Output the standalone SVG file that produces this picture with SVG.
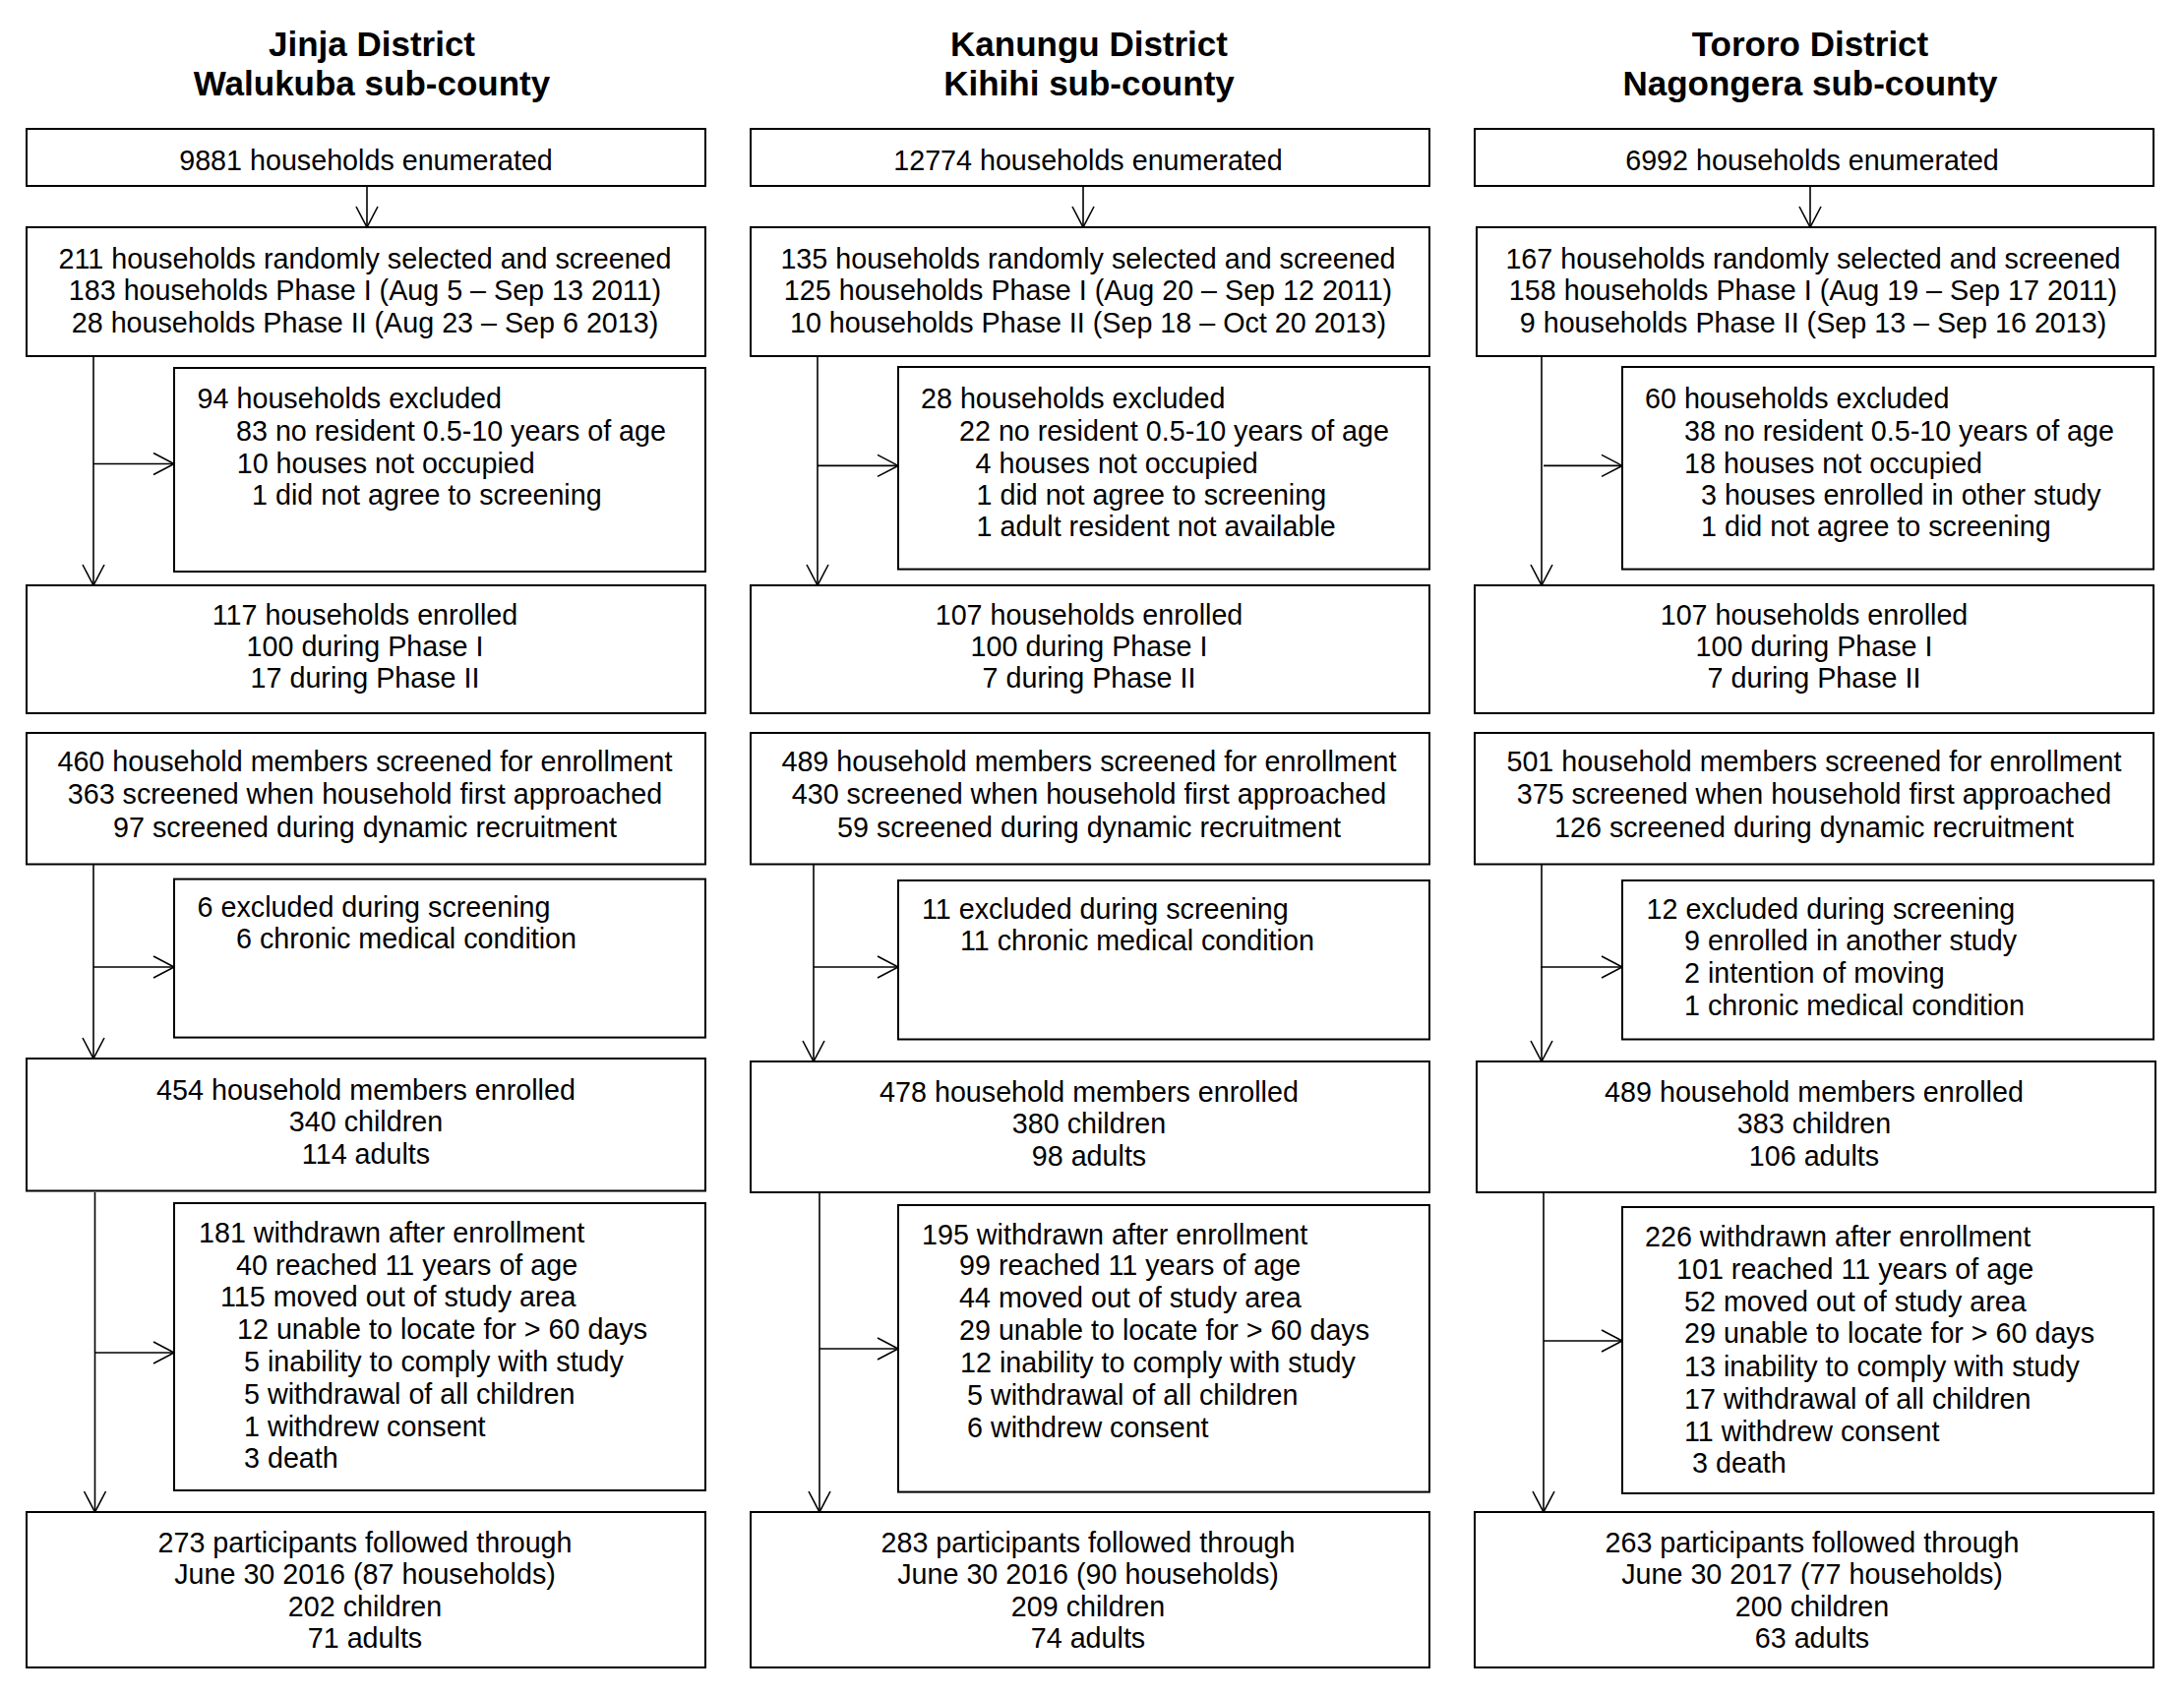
<svg xmlns="http://www.w3.org/2000/svg" width="2220" height="1724" viewBox="0 0 2220 1724">
<defs>
<style>
.box{fill:#fff;stroke:#000;stroke-width:2}
.t{font-family:"Liberation Sans",Arial,sans-serif;font-size:28.7px;fill:#000}
.c{text-anchor:middle}
.h{font-family:"Liberation Sans",Arial,sans-serif;font-size:35px;font-weight:bold;text-anchor:middle;fill:#000}
.ln{stroke:#000;stroke-width:1.6;fill:none}
text{transform:translateY(1.5px)}
</style>
<marker id="arr" markerUnits="userSpaceOnUse" viewBox="0 0 24 26" refX="22" refY="12" markerWidth="24" markerHeight="26" orient="auto">
<path d="M1,1 L22,12 L1,23" fill="none" stroke="#000" stroke-width="1.6"/>
</marker>
</defs>
<rect width="2220" height="1724" fill="#fff"/>

<g id="titles">
<text class="h"><tspan x="378" y="55.5">Jinja District</tspan><tspan x="378" y="95">Walukuba sub-county</tspan></text>
<text class="h"><tspan x="1107" y="55.5">Kanungu District</tspan><tspan x="1107" y="95">Kihihi sub-county</tspan></text>
<text class="h"><tspan x="1840" y="55.5">Tororo District</tspan><tspan x="1840" y="95">Nagongera sub-county</tspan></text>
</g>

<g id="connectors">
<!-- column 1 -->
<line class="ln" x1="373" y1="189" x2="373" y2="231" marker-end="url(#arr)"/>
<line class="ln" x1="95" y1="363" x2="95" y2="595" marker-end="url(#arr)"/>
<line class="ln" x1="95" y1="471.5" x2="177" y2="471.5" marker-end="url(#arr)"/>
<line class="ln" x1="95" y1="879" x2="95" y2="1076" marker-end="url(#arr)"/>
<line class="ln" x1="95" y1="983" x2="177" y2="983" marker-end="url(#arr)"/>
<line class="ln" x1="96.5" y1="1212" x2="96.5" y2="1537" marker-end="url(#arr)"/>
<line class="ln" x1="96.5" y1="1375" x2="177" y2="1375" marker-end="url(#arr)"/>
<!-- column 2 -->
<line class="ln" x1="1101" y1="189" x2="1101" y2="231" marker-end="url(#arr)"/>
<line class="ln" x1="831" y1="363" x2="831" y2="595" marker-end="url(#arr)"/>
<line class="ln" x1="831" y1="473.4" x2="913" y2="473.4" marker-end="url(#arr)"/>
<line class="ln" x1="827" y1="879" x2="827" y2="1079" marker-end="url(#arr)"/>
<line class="ln" x1="827" y1="983" x2="913" y2="983" marker-end="url(#arr)"/>
<line class="ln" x1="833" y1="1213" x2="833" y2="1537" marker-end="url(#arr)"/>
<line class="ln" x1="833" y1="1371" x2="913" y2="1371" marker-end="url(#arr)"/>
<!-- column 3 -->
<line class="ln" x1="1840" y1="189" x2="1840" y2="231" marker-end="url(#arr)"/>
<line class="ln" x1="1567" y1="363" x2="1567" y2="595" marker-end="url(#arr)"/>
<line class="ln" x1="1569" y1="473.4" x2="1649" y2="473.4" marker-end="url(#arr)"/>
<line class="ln" x1="1567" y1="879" x2="1567" y2="1079" marker-end="url(#arr)"/>
<line class="ln" x1="1566" y1="983" x2="1649" y2="983" marker-end="url(#arr)"/>
<line class="ln" x1="1569" y1="1213" x2="1569" y2="1537" marker-end="url(#arr)"/>
<line class="ln" x1="1569" y1="1363" x2="1649" y2="1363" marker-end="url(#arr)"/>
</g>

<!-- ===== Column 1 ===== -->
<g id="c1-enumerated">
<rect class="box" x="27" y="131" width="690" height="58"/>
<text class="t c" x="372" y="171">9881 households enumerated</text>
</g>
<g id="c1-selected">
<rect class="box" x="27" y="231" width="690" height="131"/>
<text class="t c"><tspan x="371" y="271">211 households randomly selected and screened</tspan><tspan x="371" y="303.6">183 households Phase I (Aug 5 – Sep 13 2011)</tspan><tspan x="371" y="336.2">28 households Phase II (Aug 23 – Sep 6 2013)</tspan></text>
</g>
<g id="c1-hh-excluded">
<rect class="box" x="177" y="374" width="540" height="207"/>
<text class="t"><tspan x="200.6" y="413">94 households excluded</tspan><tspan x="240" y="446">83 no resident 0.5-10 years of age</tspan><tspan x="240.7" y="479">10 houses not occupied</tspan><tspan x="256" y="511">1 did not agree to screening</tspan></text>
</g>
<g id="c1-hh-enrolled">
<rect class="box" x="27" y="595" width="690" height="130"/>
<text class="t c"><tspan x="371" y="633">117 households enrolled</tspan><tspan x="371" y="665">100 during Phase I</tspan><tspan x="371" y="697">17 during Phase II</tspan></text>
</g>
<g id="c1-members-screened">
<rect class="box" x="27" y="745" width="690" height="133.5"/>
<text class="t c"><tspan x="371" y="782">460 household members screened for enrollment</tspan><tspan x="371" y="815">363 screened when household first approached</tspan><tspan x="371" y="849">97 screened during dynamic recruitment</tspan></text>
</g>
<g id="c1-screen-excluded">
<rect class="box" x="177" y="893.6" width="540" height="161"/>
<text class="t"><tspan x="200.6" y="930">6 excluded during screening</tspan><tspan x="240" y="962">6 chronic medical condition</tspan></text>
</g>
<g id="c1-members-enrolled">
<rect class="box" x="27" y="1076" width="690" height="134.5"/>
<text class="t c"><tspan x="372" y="1116">454 household members enrolled</tspan><tspan x="372" y="1148">340 children</tspan><tspan x="372" y="1181">114 adults</tspan></text>
</g>
<g id="c1-withdrawn">
<rect class="box" x="177" y="1223" width="540" height="292"/>
<text class="t"><tspan x="202" y="1261.5">181 withdrawn after enrollment</tspan><tspan x="240" y="1294">40 reached 11 years of age</tspan><tspan x="224" y="1326.5">115 moved out of study area</tspan><tspan x="241" y="1359">12 unable to locate for &gt; 60 days</tspan><tspan x="248" y="1392">5 inability to comply with study</tspan><tspan x="248" y="1425">5 withdrawal of all children</tspan><tspan x="248" y="1458">1 withdrew consent</tspan><tspan x="248" y="1490">3 death</tspan></text>
</g>
<g id="c1-followed">
<rect class="box" x="27" y="1537" width="690" height="158"/>
<text class="t c"><tspan x="371" y="1576">273 participants followed through</tspan><tspan x="371" y="1608">June 30 2016 (87 households)</tspan><tspan x="371" y="1641">202 children</tspan><tspan x="371" y="1673">71 adults</tspan></text>
</g>

<!-- ===== Column 2 ===== -->
<g id="c2-enumerated">
<rect class="box" x="763" y="131" width="690" height="58"/>
<text class="t c" x="1106" y="171">12774 households enumerated</text>
</g>
<g id="c2-selected">
<rect class="box" x="763" y="231" width="690" height="131"/>
<text class="t c"><tspan x="1106" y="271">135 households randomly selected and screened</tspan><tspan x="1106" y="303.6">125 households Phase I (Aug 20 – Sep 12 2011)</tspan><tspan x="1106" y="336.2">10 households Phase II (Sep 18 – Oct 20 2013)</tspan></text>
</g>
<g id="c2-hh-excluded">
<rect class="box" x="913" y="373" width="540" height="205.6"/>
<text class="t"><tspan x="936" y="413">28 households excluded</tspan><tspan x="975" y="446">22 no resident 0.5-10 years of age</tspan><tspan x="991.5" y="479">4 houses not occupied</tspan><tspan x="992.5" y="511">1 did not agree to screening</tspan><tspan x="992.5" y="543">1 adult resident not available</tspan></text>
</g>
<g id="c2-hh-enrolled">
<rect class="box" x="763" y="595" width="690" height="130"/>
<text class="t c"><tspan x="1107" y="633">107 households enrolled</tspan><tspan x="1107" y="665">100 during Phase I</tspan><tspan x="1107" y="697">7 during Phase II</tspan></text>
</g>
<g id="c2-members-screened">
<rect class="box" x="763" y="745" width="690" height="133.5"/>
<text class="t c"><tspan x="1107" y="782">489 household members screened for enrollment</tspan><tspan x="1107" y="815">430 screened when household first approached</tspan><tspan x="1107" y="849">59 screened during dynamic recruitment</tspan></text>
</g>
<g id="c2-screen-excluded">
<rect class="box" x="913" y="895" width="540" height="161.5"/>
<text class="t"><tspan x="937" y="932">11 excluded during screening</tspan><tspan x="976" y="964">11 chronic medical condition</tspan></text>
</g>
<g id="c2-members-enrolled">
<rect class="box" x="763" y="1079" width="690" height="133"/>
<text class="t c"><tspan x="1107" y="1118">478 household members enrolled</tspan><tspan x="1107" y="1150">380 children</tspan><tspan x="1107" y="1183">98 adults</tspan></text>
</g>
<g id="c2-withdrawn">
<rect class="box" x="913" y="1225" width="540" height="291.6"/>
<text class="t"><tspan x="937" y="1263">195 withdrawn after enrollment</tspan><tspan x="975" y="1294.5">99 reached 11 years of age</tspan><tspan x="975" y="1327.5">44 moved out of study area</tspan><tspan x="975" y="1360">29 unable to locate for &gt; 60 days</tspan><tspan x="976" y="1393">12 inability to comply with study</tspan><tspan x="983" y="1426">5 withdrawal of all children</tspan><tspan x="983" y="1459">6 withdrew consent</tspan></text>
</g>
<g id="c2-followed">
<rect class="box" x="763" y="1537" width="690" height="158"/>
<text class="t c"><tspan x="1106" y="1576">283 participants followed through</tspan><tspan x="1106" y="1608">June 30 2016 (90 households)</tspan><tspan x="1106" y="1641">209 children</tspan><tspan x="1106" y="1673">74 adults</tspan></text>
</g>

<!-- ===== Column 3 ===== -->
<g id="c3-enumerated">
<rect class="box" x="1499" y="131" width="690" height="58"/>
<text class="t c" x="1842" y="171">6992 households enumerated</text>
</g>
<g id="c3-selected">
<rect class="box" x="1501" y="231" width="690" height="131"/>
<text class="t c"><tspan x="1843" y="271">167 households randomly selected and screened</tspan><tspan x="1843" y="303.6">158 households Phase I (Aug 19 – Sep 17 2011)</tspan><tspan x="1843" y="336.2">9 households Phase II (Sep 13 – Sep 16 2013)</tspan></text>
</g>
<g id="c3-hh-excluded">
<rect class="box" x="1649" y="373" width="540" height="205.6"/>
<text class="t"><tspan x="1672" y="413">60 households excluded</tspan><tspan x="1712" y="446">38 no resident 0.5-10 years of age</tspan><tspan x="1712" y="479">18 houses not occupied</tspan><tspan x="1729" y="511">3 houses enrolled in other study</tspan><tspan x="1729" y="543">1 did not agree to screening</tspan></text>
</g>
<g id="c3-hh-enrolled">
<rect class="box" x="1499" y="595" width="690" height="130"/>
<text class="t c"><tspan x="1844" y="633">107 households enrolled</tspan><tspan x="1844" y="665">100 during Phase I</tspan><tspan x="1844" y="697">7 during Phase II</tspan></text>
</g>
<g id="c3-members-screened">
<rect class="box" x="1499" y="745" width="690" height="133.5"/>
<text class="t c"><tspan x="1844" y="782">501 household members screened for enrollment</tspan><tspan x="1844" y="815">375 screened when household first approached</tspan><tspan x="1844" y="849">126 screened during dynamic recruitment</tspan></text>
</g>
<g id="c3-screen-excluded">
<rect class="box" x="1649" y="895" width="540" height="161.5"/>
<text class="t"><tspan x="1673.5" y="932">12 excluded during screening</tspan><tspan x="1712" y="964.5">9 enrolled in another study</tspan><tspan x="1712" y="997.5">2 intention of moving</tspan><tspan x="1712" y="1030.5">1 chronic medical condition</tspan></text>
</g>
<g id="c3-members-enrolled">
<rect class="box" x="1501" y="1079" width="690" height="133"/>
<text class="t c"><tspan x="1844" y="1118">489 household members enrolled</tspan><tspan x="1844" y="1150">383 children</tspan><tspan x="1844" y="1183">106 adults</tspan></text>
</g>
<g id="c3-withdrawn">
<rect class="box" x="1649" y="1227" width="540" height="291"/>
<text class="t"><tspan x="1672" y="1265">226 withdrawn after enrollment</tspan><tspan x="1704" y="1298">101 reached 11 years of age</tspan><tspan x="1712" y="1331">52 moved out of study area</tspan><tspan x="1712" y="1363.5">29 unable to locate for &gt; 60 days</tspan><tspan x="1712" y="1397">13 inability to comply with study</tspan><tspan x="1712" y="1430">17 withdrawal of all children</tspan><tspan x="1712" y="1463">11 withdrew consent</tspan><tspan x="1720" y="1495">3 death</tspan></text>
</g>
<g id="c3-followed">
<rect class="box" x="1499" y="1537" width="690" height="158"/>
<text class="t c"><tspan x="1842" y="1576">263 participants followed through</tspan><tspan x="1842" y="1608">June 30 2017 (77 households)</tspan><tspan x="1842" y="1641">200 children</tspan><tspan x="1842" y="1673">63 adults</tspan></text>
</g>
</svg>
